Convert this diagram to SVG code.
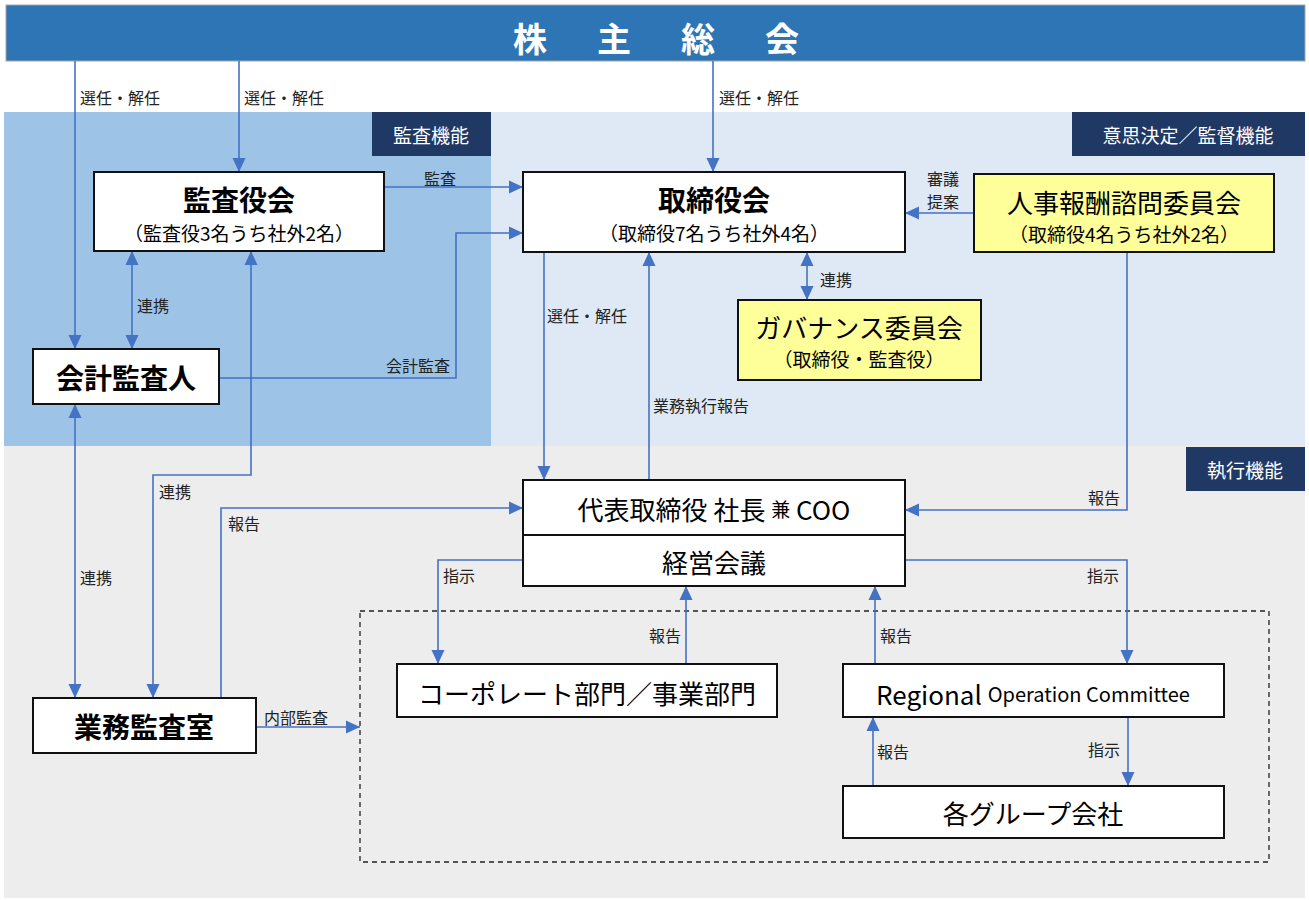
<svg xmlns="http://www.w3.org/2000/svg" width="1309" height="900" viewBox="0 0 1309 900">
<style>
.jp{font-family:"Noto Sans CJK JP","Noto Sans",sans-serif;}
.box{fill:#fff;stroke:#111;stroke-width:2;}
.ybox{fill:#ffff99;stroke:#111;stroke-width:2;}
.title{font-family:"Noto Sans CJK JP",sans-serif;font-size:28px;font-weight:bold;fill:#000;text-anchor:middle;dominant-baseline:central;}
.main{font-family:"Noto Sans CJK JP",sans-serif;font-size:26px;fill:#000;text-anchor:middle;dominant-baseline:central;}
.sub{font-family:"Noto Sans CJK JP",sans-serif;font-size:19px;fill:#000;text-anchor:middle;dominant-baseline:central;}
.lbl{font-family:"Noto Sans CJK JP",sans-serif;font-size:16px;fill:#222;dominant-baseline:central;}
.tag{fill:#203864;}
.tagt{font-family:"Noto Sans CJK JP",sans-serif;font-size:19px;fill:#fff;text-anchor:middle;dominant-baseline:central;}
.conn path{fill:none;stroke:#4472c4;stroke-width:1.6;}
.e{marker-end:url(#ah);}
.d{marker-start:url(#ah);marker-end:url(#ah);}
</style>
<defs>
<marker id="ah" markerUnits="userSpaceOnUse" markerWidth="14" markerHeight="14" refX="14" refY="7" orient="auto-start-reverse" viewBox="0 0 14 14">
<path d="M0,0.5 L14,7 L0,13.5 z" fill="#4472c4"/>
</marker>
</defs>
<rect x="0" y="0" width="1309" height="900" fill="#fff"/>
<g id="regions">
<rect x="4" y="112" width="487" height="334" fill="#9dc3e6"/>
<rect x="491" y="112" width="814" height="334" fill="#dee9f5"/>
<rect x="4" y="446" width="1301" height="452" fill="#ededed"/>
<rect x="360" y="611" width="909" height="251" fill="none" stroke="#222" stroke-width="1.3" stroke-dasharray="5,4"/>
</g>
<g id="tags">
<rect class="tag" x="372" y="112" width="119" height="44"/>
<text class="tagt" x="431" y="134">監査機能</text>
<rect class="tag" x="1072" y="112" width="233" height="44"/>
<text class="tagt" x="1188" y="134">意思決定／監督機能</text>
<rect class="tag" x="1186" y="447" width="119" height="44"/>
<text class="tagt" x="1245" y="469">執行機能</text>
</g>
<g id="shareholders">
<rect x="6" y="5" width="1299" height="56" fill="#2e75b6" stroke="#a6a6a6" stroke-width="1"/>
<text x="660" y="37" font-family="Noto Sans CJK JP,sans-serif" font-size="34" font-weight="bold" fill="#fff" text-anchor="middle" dominant-baseline="central" letter-spacing="8">株　主　総　会</text>
</g>
<g id="connectors" class="conn">
<path class="e" d="M75,61 V349"/>
<path class="e" d="M239,61 V172"/>
<path class="e" d="M713,61 V172"/>
<path class="e" d="M384,187 H523"/>
<path class="e" d="M219,378 H456 V233 H523"/>
<path class="d" d="M132,251 V349"/>
<path class="d" d="M251,251 V475 H153 V698"/>
<path class="d" d="M75,404 V698"/>
<path class="e" d="M221,698 V508 H523"/>
<path class="e" d="M256,727 H360"/>
<path class="e" d="M974,213 H905"/>
<path class="e" d="M544,252 V480"/>
<path class="e" d="M649,480 V252"/>
<path class="d" d="M807,252 V300"/>
<path class="e" d="M1127,252 V510 H905"/>
<path class="e" d="M523,560 H438 V664"/>
<path class="e" d="M905,560 H1127 V664"/>
<path class="e" d="M686,664 V586"/>
<path class="e" d="M875,664 V586"/>
<path class="e" d="M873,786 V717"/>
<path class="e" d="M1128,717 V786"/>
</g>
<g id="labels">
<text class="lbl" x="80" y="97">選任・解任</text>
<text class="lbl" x="244" y="97">選任・解任</text>
<text class="lbl" x="719" y="97">選任・解任</text>
<text class="lbl" x="424" y="178">監査</text>
<text class="lbl" x="927" y="178" font-size="15">審議</text>
<text class="lbl" x="927" y="201" font-size="15">提案</text>
<text class="lbl" x="137" y="305">連携</text>
<text class="lbl" x="450" y="365" text-anchor="end">会計監査</text>
<text class="lbl" x="159" y="491">連携</text>
<text class="lbl" x="228" y="523">報告</text>
<text class="lbl" x="547" y="315">選任・解任</text>
<text class="lbl" x="820" y="279">連携</text>
<text class="lbl" x="653" y="405">業務執行報告</text>
<text class="lbl" x="1088" y="497">報告</text>
<text class="lbl" x="80" y="577">連携</text>
<text class="lbl" x="443" y="575">指示</text>
<text class="lbl" x="264" y="717">内部監査</text>
<text class="lbl" x="649" y="635">報告</text>
<text class="lbl" x="880" y="635">報告</text>
<text class="lbl" x="1087" y="575">指示</text>
<text class="lbl" x="877" y="751">報告</text>
<text class="lbl" x="1088" y="749">指示</text>
</g>
<g id="kansayakukai">
<rect class="box" x="94" y="172" width="290" height="79"/>
<text class="title" x="239" y="199">監査役会</text>
<text class="sub" x="239" y="232">（監査役3名うち社外2名）</text>
</g>
<g id="torishimariyakukai">
<rect class="box" x="523" y="172" width="382" height="80"/>
<text class="title" x="714" y="199">取締役会</text>
<text class="sub" x="714" y="232">（取締役7名うち社外4名）</text>
</g>
<g id="jinji">
<rect class="ybox" x="974" y="174" width="300" height="78"/>
<text class="main" x="1124" y="201">人事報酬諮問委員会</text>
<text class="sub" x="1124" y="233" font-size="18">（取締役4名うち社外2名）</text>
</g>
<g id="governance">
<rect class="ybox" x="738" y="300" width="243" height="80"/>
<text class="main" x="859" y="326">ガバナンス委員会</text>
<text class="sub" x="859" y="358" font-size="18">（取締役・監査役）</text>
</g>
<g id="kaikei">
<rect class="box" x="33" y="349" width="186" height="55"/>
<text class="title" x="126" y="377">会計監査人</text>
</g>
<g id="gyomukansa">
<rect class="box" x="33" y="698" width="223" height="55"/>
<text class="title" x="144" y="726">業務監査室</text>
</g>
<g id="ceo">
<rect class="box" x="523" y="480" width="382" height="55"/>
<text class="main" x="714" y="508">代表取締役 社長 <tspan font-size="19">兼</tspan> COO</text>
</g>
<g id="keiei">
<rect class="box" x="523" y="535" width="382" height="51"/>
<text class="main" x="714" y="561">経営会議</text>
</g>
<g id="corporate">
<rect class="box" x="397" y="664" width="380" height="53"/>
<text class="main" x="587" y="692">コーポレート部門／事業部門</text>
</g>
<g id="regional">
<rect class="box" x="843" y="664" width="381" height="53"/>
<text class="main" x="1033" y="693" font-family="Noto Sans,sans-serif" font-size="22">Regional <tspan font-size="20">Operation Committee</tspan></text>
</g>
<g id="group">
<rect class="box" x="843" y="786" width="381" height="52"/>
<text class="main" x="1033" y="812">各グループ会社</text>
</g>
</svg>
